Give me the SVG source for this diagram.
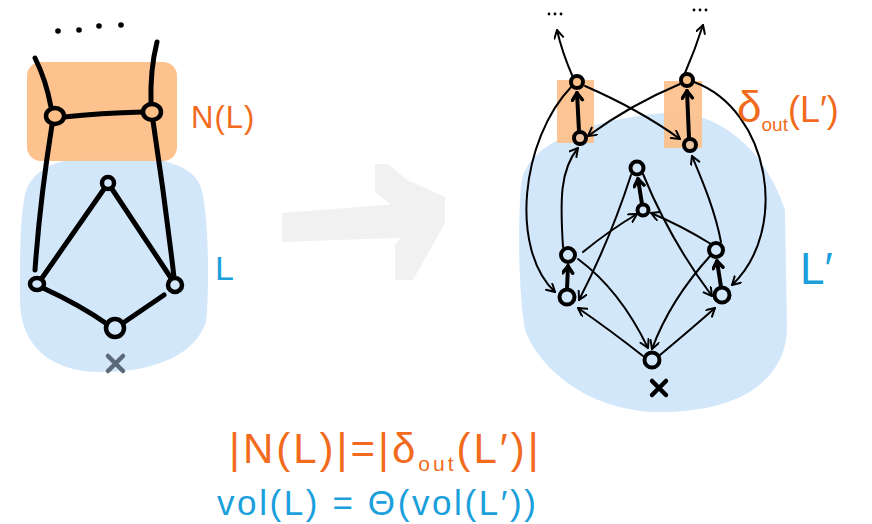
<svg xmlns="http://www.w3.org/2000/svg" width="872" height="524" viewBox="0 0 872 524">
<defs>
<style>
.blue{fill:#d3e7fb}
.orange{fill:#fdbf88}
.e{fill:none;stroke:#000;stroke-width:5;stroke-linecap:round}
.a{fill:none;stroke:#000;stroke-width:2;stroke-linecap:round;marker-end:url(#ah)}
.t{fill:none;stroke:#000;stroke-width:4;stroke-linecap:round;marker-end:url(#ahb)}
.n{stroke:#000;stroke-width:4.5}
.rn{stroke:#000;stroke-width:4}
.dot{fill:#000}
.ot{fill:#f26b1d;font-family:"Liberation Sans",Arial,sans-serif}
.bt{fill:#1ba0dc;font-family:"Liberation Sans",Arial,sans-serif}
</style>
<marker id="ah" markerWidth="12" markerHeight="12" refX="9" refY="5" orient="auto" markerUnits="userSpaceOnUse">
<path d="M1,0.5 L9,5 L1,9.5" fill="none" stroke="#000" stroke-width="2" stroke-linecap="round" stroke-linejoin="round"/>
</marker>
<marker id="ahb" markerWidth="14" markerHeight="14" refX="9" refY="6" orient="auto" markerUnits="userSpaceOnUse">
<path d="M2,1 L9,6 L2,11" fill="none" stroke="#000" stroke-width="3.5" stroke-linecap="round" stroke-linejoin="round"/>
</marker>
</defs>
<rect width="872" height="524" fill="#fff"/>

<!-- backgrounds -->
<g id="regions">
<path class="blue" d="M24,200 C28,168 60,156 110,156 C160,156 192,165 200,185 C210,210 209,300 206,322 C196,352 160,372 100,372 C50,372 20,345 20,300 C20,250 20,225 24,200 Z"/>
<rect class="orange" x="27" y="62" width="150" height="99" rx="14" opacity="0.95"/>
<path class="blue" d="M521,185 C525,140 600,118 665,113 C720,110 765,150 785,210 L787,330 C785,380 740,412 660,412 C590,412 540,370 525,330 C518,290 518,220 521,185 Z"/>
<rect class="orange" x="557" y="80" width="37" height="63" opacity="0.9"/>
<rect class="orange" x="664" y="81" width="38" height="67" opacity="0.9"/>
</g>

<!-- gray transition arrow -->
<g id="transition-arrow" fill="#efefef" opacity="0.85">
<path d="M282,213 L423,202 L423,237 L282,242 Z"/>
<path d="M375,164 L388,164 L407,180 L445,197 L445,223 L413,280 L395,280 L395,245 L413,222 L375,192 Z"/>
</g>

<!-- left graph connectors -->
<g id="left-connectors">
<path class="e" d="M35,58 Q46,80 51,107"/>
<path class="e" d="M157,42 Q150,70 151,103"/>
<path class="e" d="M64,117 Q100,113 143,112"/>
<path class="e" d="M52,125 Q40,200 35,270"/>
<path class="e" d="M153,121 Q165,200 174,277"/>
<path class="e" d="M104,189 L42,278"/>
<path class="e" d="M112,189 L171,278"/>
<path class="e" d="M43,288 Q80,305 107,324"/>
<path class="e" d="M123,323 L164,295"/>
</g>
<g id="left-dots">
<circle class="dot" cx="58" cy="31" r="2.8"/>
<circle class="dot" cx="79" cy="30" r="2.8"/>
<circle class="dot" cx="99" cy="26" r="2.8"/>
<circle class="dot" cx="121" cy="25" r="2.8"/>
</g>
<g id="L1"><ellipse class="n" cx="55" cy="116" rx="9" ry="8" fill="#fdbf88"/></g>
<g id="L2"><ellipse class="n" cx="152" cy="112" rx="9" ry="8" fill="#fdbf88"/></g>
<g id="L3"><circle class="n" cx="108" cy="183" r="6" fill="#d3e7fb"/></g>
<g id="L4"><ellipse class="n" cx="37" cy="284" rx="7" ry="6" fill="#d3e7fb"/></g>
<g id="L5"><circle class="n" cx="175" cy="285" r="7" fill="#d3e7fb"/></g>
<g id="L6"><circle class="n" cx="115" cy="328" r="9" fill="#d3e7fb"/></g>
<g id="left-x" stroke="#5a6878" stroke-width="4.5" stroke-linecap="round">
<path d="M108,356 L123,371 M123,356 L108,371"/>
</g>

<!-- right graph connectors -->
<g id="right-connectors">
<path class="a" d="M572,75 Q562,52 557,30"/>
<path class="a" d="M685,73 Q695,50 703,25"/>
<path class="a" d="M585,86 Q640,110 680,139"/>
<path class="a" d="M680,84 Q630,105 588,136"/>
<path class="a" d="M572,86 C520,140 510,250 555,292"/>
<path class="a" d="M694,82 C770,110 790,230 732,285"/>
<path class="a" d="M563,247 C560,200 560,170 578,148"/>
<path class="a" d="M721,242 C715,210 702,180 692,156"/>
<path class="a" d="M583,252 Q610,230 637,214"/>
<path class="a" d="M711,244 Q680,225 651,213"/>
<path class="a" d="M631,175 Q610,240 579,300"/>
<path class="a" d="M643,174 Q670,240 712,296"/>
<path class="a" d="M578,259 Q620,290 648,348"/>
<path class="a" d="M711,255 Q670,300 652,349"/>
<path class="a" d="M643,356 Q610,330 578,308"/>
<path class="a" d="M660,355 Q690,330 715,308"/>
<path class="t" d="M579,131 L577,93"/>
<path class="t" d="M689,138 L687,91"/>
<path class="t" d="M567,289 L568,266"/>
<path class="t" d="M721,287 L717,261"/>
<path class="t" d="M642,204 L638,179"/>
</g>
<g id="right-dots">
<circle class="dot" cx="549" cy="14" r="1.4"/><circle class="dot" cx="555" cy="14" r="1.4"/><circle class="dot" cx="561" cy="14" r="1.4"/>
<circle class="dot" cx="694" cy="10" r="1.4"/><circle class="dot" cx="700" cy="10" r="1.4"/><circle class="dot" cx="706" cy="10" r="1.4"/>
</g>
<g id="A"><circle class="rn" cx="577" cy="82" r="6" fill="#fdbf88"/></g>
<g id="B"><circle class="rn" cx="580" cy="138" r="6" fill="#ecc3a0"/></g>
<g id="C"><circle class="rn" cx="687" cy="80" r="6" fill="#fdbf88"/></g>
<g id="D"><circle class="rn" cx="690" cy="145" r="6" fill="#ecc3a0"/></g>
<g id="E"><circle class="rn" cx="637" cy="168" r="6.5" fill="#d3e7fb"/></g>
<g id="F"><circle class="rn" cx="643" cy="210" r="5.5" fill="#d3e7fb"/></g>
<g id="G"><circle class="rn" cx="568" cy="255" r="7" fill="#d3e7fb"/></g>
<g id="H"><circle class="rn" cx="567" cy="297" r="7.5" fill="#d3e7fb"/></g>
<g id="I"><circle class="rn" cx="716" cy="250" r="7" fill="#d3e7fb"/></g>
<g id="J"><circle class="rn" cx="722" cy="295" r="7.5" fill="#d3e7fb"/></g>
<g id="K"><circle class="rn" cx="652" cy="360" r="7.5" fill="#d3e7fb"/></g>
<g id="right-x" stroke="#000" stroke-width="4.5" stroke-linecap="round">
<path d="M652,381 L666,395 M666,381 L652,395"/>
</g>

<!-- labels -->
<g id="labels">
<text class="ot" x="191" y="128" font-size="31" letter-spacing="1">N(L)</text>
<text class="bt" x="215" y="280" font-size="34">L</text>
<text class="ot" x="737" y="122" font-size="44">δ<tspan font-size="19" dy="9">out</tspan><tspan font-size="36" dy="-9">(L′)</tspan></text>
<text class="bt" x="800" y="284" font-size="44">L′</text>
<text class="ot" x="229" y="463" font-size="42" letter-spacing="3">|N(L)|=|δ<tspan font-size="21" dy="8">out</tspan><tspan dy="-8">(L′)|</tspan></text>
<text class="bt" x="217" y="515" font-size="35" letter-spacing="2.6">vol(L) = Θ(vol(L′))</text>
</g>
</svg>
